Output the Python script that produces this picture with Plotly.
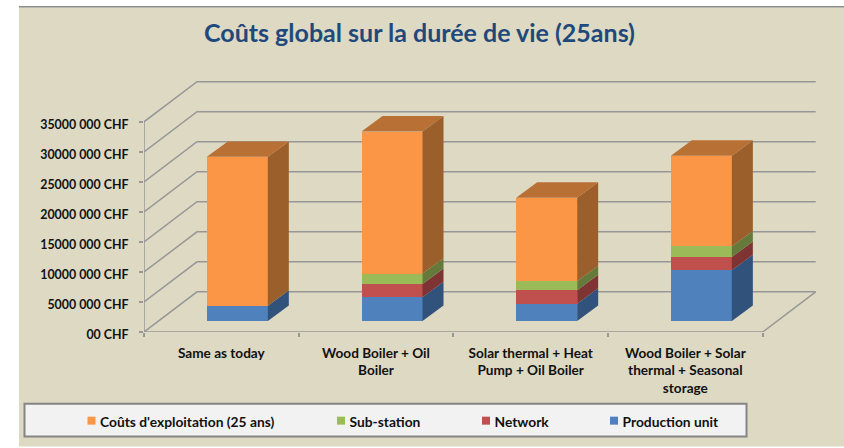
import plotly.graph_objects as go

categories = ["Same as today", "Wood Boiler + Oil<br>Boiler",
              "Solar thermal + Heat<br>Pump + Oil Boiler",
              "Wood Boiler + Solar<br>thermal + Seasonal<br>storage"]
production = [2540000, 3980000, 2870000, 8460000]
network = [0, 2200000, 2270000, 2200000]
substation = [0, 1720000, 1490000, 1770000]
exploitation = [24800000, 23650000, 13900000, 15100000]
y_ticks = [0, 5000000, 10000000, 15000000, 20000000, 25000000, 30000000, 35000000]
y_labels = ["00 CHF", "5000 000 CHF", "10000 000 CHF", "15000 000 CHF",
            "20000 000 CHF", "25000 000 CHF", "30000 000 CHF", "35000 000 CHF"]

W, H = 844, 448
PL, PR, PT, PB = 144, 820, 70, 333          # plot area in pixels
CAT_PX = 154.67
VAL_PX = 211 / 35000000
x_min = -0.5
x_max = x_min + (PR - PL) / CAT_PX
y_max = (PB - PT) / VAL_PX

# 3D projection constants (axis units)
WALL_DX = 53 / CAT_PX
WALL_DY = 40.3 / VAL_PX
BAR_OFF = 0.273
BAR_W = 61 / CAT_PX
BAR_DX = 21 / CAT_PX
BAR_DY = 15.5 / VAL_PX
bar_x0 = 16 / CAT_PX
base_y = BAR_OFF * WALL_DY

FONT = "Lato"
GRID = "#979797"
LEGEND_BG = "#F2F2F2"

series = [
    ("Production unit", production, "#4F81BD", "#31527B"),
    ("Network", network, "#C0504D", "#7D3432"),
    ("Sub-station", substation, "#9BBB59", "#657A3A"),
    ("Coûts d'exploitation (25 ans)", exploitation, "#FA9646", "#9A5F2A"),
]
legend_text_px = {"Coûts d'exploitation (25 ans)": 100, "Sub-station": 349.5,
                  "Network": 494.5, "Production unit": 622.5}


def px_x(p):
    return (p - PL) / (PR - PL)


def px_y(p):
    return (PB - p) / (PB - PT)


fig = go.Figure()
shapes = [
    dict(type="rect", xref="paper", yref="paper", layer="below",
         x0=px_x(19), x1=px_x(W), y0=px_y(H), y1=px_y(7),
         fillcolor="#DDD9C3", line=dict(width=0)),
    dict(type="line", xref="paper", yref="paper", layer="below",
         x0=px_x(19), x1=px_x(W), y0=px_y(6.5), y1=px_y(6.5),
         line=dict(color="#8C8C8C", width=1.5)),
    dict(type="rect", xref="paper", yref="paper", layer="below",
         x0=px_x(24.5), x1=px_x(746.5), y0=px_y(438), y1=px_y(405),
         fillcolor=LEGEND_BG, line=dict(color="#858585", width=2)),
]
x_right = x_min + len(categories)
for v in y_ticks:
    shapes.append(dict(type="path", layer="below", xref="x", yref="y",
                       path=f"M{x_min},{v} L{x_min + WALL_DX},{v + WALL_DY} L{x_right + WALL_DX},{v + WALL_DY}",
                       line=dict(color=GRID, width=1.5)))
shapes.append(dict(type="path", layer="below", xref="x", yref="y",
                   path=f"M{x_min},0 L{x_right},0 L{x_right + WALL_DX},{WALL_DY}",
                   line=dict(color=GRID, width=1.5)))
shapes.append(dict(type="line", layer="below", xref="x", yref="y",
                   x0=x_min, x1=x_min, y0=0, y1=y_ticks[-1],
                   line=dict(color=GRID, width=1.5)))

bar_centers = [i + bar_x0 for i in range(len(categories))]
bottoms = [base_y] * len(categories)
for name, vals, front, side in series:
    fig.add_trace(go.Bar(x=bar_centers, y=vals, base=list(bottoms), width=BAR_W,
                         marker=dict(color=front, line=dict(width=0)),
                         name=name, showlegend=False))
    sx, sy = [], []
    for c, b, v in zip(bar_centers, bottoms, vals):
        if v <= 0:
            continue
        r = c + BAR_W / 2
        sx += [r, r + BAR_DX, r + BAR_DX, r, r, None]
        sy += [b, b + BAR_DY, b + v + BAR_DY, b + v, b, None]
    fig.add_trace(go.Scatter(x=sx, y=sy, mode="lines", fill="toself", fillcolor=side,
                             line=dict(width=0, color=side), hoverinfo="skip",
                             showlegend=False))
    bottoms = [b + v for b, v in zip(bottoms, vals)]

# top faces of the stacks
tx, ty = [], []
for c, t in zip(bar_centers, bottoms):
    l, r = c - BAR_W / 2, c + BAR_W / 2
    tx += [l, l + BAR_DX, r + BAR_DX, r, l, None]
    ty += [t, t + BAR_DY, t + BAR_DY, t, t, None]
fig.add_trace(go.Scatter(x=tx, y=ty, mode="lines", fill="toself", fillcolor="#B97034",
                         line=dict(width=0, color="#B97034"), hoverinfo="skip",
                         showlegend=False))

# legend, one block per series so each entry sits at its own position;
# the colour keys are placed right next to the text, as in the reference
legends = {}
for i, (name, vals, front, side) in enumerate(reversed(series)):
    key = "legend" if i == 0 else f"legend{i + 1}"
    fig.add_trace(go.Scatter(x=[None], y=[None], mode="markers", name=name,
                             marker=dict(symbol="square", size=2, color=LEGEND_BG),
                             showlegend=True, legend=key))
    legends[key] = dict(x=px_x(legend_text_px[name] - 40), y=px_y(421.5), xanchor="left",
                        yanchor="middle", bgcolor="rgba(0,0,0,0)", borderwidth=0,
                        itemwidth=30, itemclick=False, itemdoubleclick=False,
                        font=dict(family=FONT, size=13.8, color="#111111", weight="bold"))
    key_left = legend_text_px[name] - 12.5
    shapes.append(dict(type="rect", xref="paper", yref="paper", layer="above",
                       x0=px_x(key_left), x1=px_x(key_left + 8), y0=px_y(426), y1=px_y(418),
                       fillcolor=front, line=dict(width=0)))

fig.update_layout(
    width=W, height=H, autosize=False,
    margin=dict(l=PL, r=W - PR, t=PT, b=H - PB, pad=0),
    paper_bgcolor="white", plot_bgcolor="rgba(0,0,0,0)",
    barmode="overlay", bargap=0, shapes=shapes,
    title=dict(text="Coûts global sur la durée de vie (25ans)", x=419.5 / W, xanchor="center",
               y=1 - 33 / H, yanchor="middle", xref="container", yref="container",
               font=dict(family=FONT, size=25, color="#1F497D", weight="bold")),
    xaxis=dict(range=[x_min, x_max], tickmode="array", tickvals=list(range(len(categories))),
               ticktext=categories, ticks="", showgrid=False, zeroline=False, showline=False,
               ticklabelstandoff=11,
               tickfont=dict(family=FONT, size=13.6, color="#111111", weight="bold"),
               minor=dict(tickmode="array", tickvals=[x_min + i for i in range(len(categories) + 1)],
                          ticks="outside", ticklen=4, tickwidth=1.5, tickcolor=GRID, showgrid=False)),
    yaxis=dict(range=[0, y_max], tickmode="array", tickvals=y_ticks, ticktext=y_labels,
               ticks="outside", ticklen=4, tickwidth=1.5, tickcolor=GRID, showgrid=False,
               zeroline=False, showline=False, ticklabelstandoff=8, ticklabelshift=3,
               tickfont=dict(family=FONT, size=12.4, color="#111111", weight="bold")),
    **legends,
)

fig.write_html("out.html", config={"displayModeBar": False},
               post_script="document.body.style.margin='0';document.body.style.overflow='hidden';")
